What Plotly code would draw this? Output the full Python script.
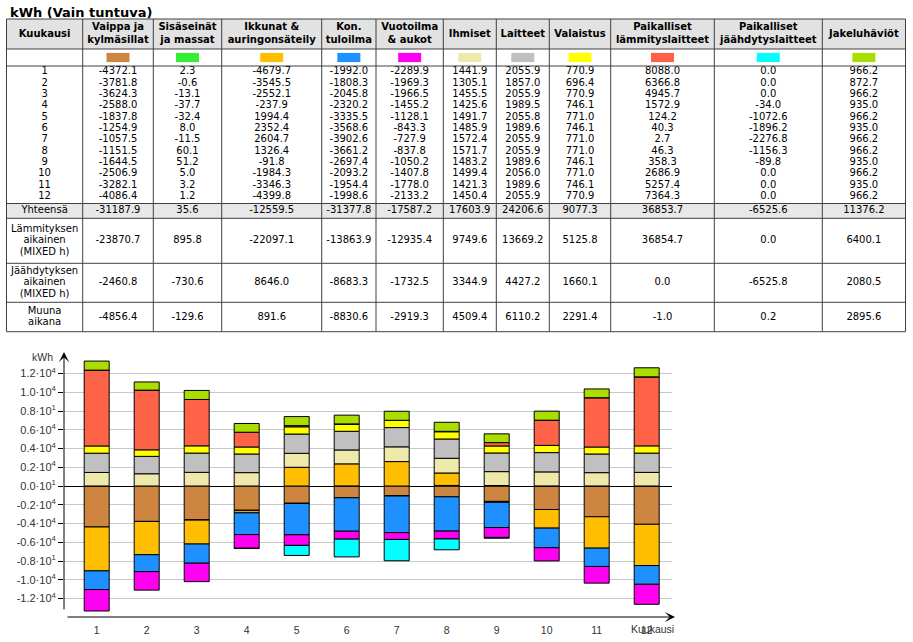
import plotly.graph_objects as go

# ---------------- data ----------------
MONTHS = ["1", "2", "3", "4", "5", "6", "7", "8", "9", "10", "11", "12"]
MONTH_POS = [1, 2, 3, 4, 5, 6, 7, 8, 9, 10, 11, 12]

HEADERS = ["Kuukausi", "Vaippa ja<br>kylmäsillat", "Sisäseinät<br>ja massat",
           "Ikkunat &amp;<br>auringonsäteily", "Kon.<br>tuloilma", "Vuotoilma<br>&amp; aukot",
           "Ihmiset", "Laitteet", "Valaistus", "Paikalliset<br>lämmityslaitteet",
           "Paikalliset<br>jäähdytyslaitteet", "Jakeluhäviöt"]
SERIES_NAMES = ["Vaippa ja kylmäsillat", "Sisäseinät ja massat", "Ikkunat & auringonsäteily",
                "Kon. tuloilma", "Vuotoilma & aukot", "Ihmiset", "Laitteet", "Valaistus",
                "Paikalliset lämmityslaitteet", "Paikalliset jäähdytyslaitteet", "Jakeluhäviöt"]

VAIPPA = [-4372.1, -3781.8, -3624.3, -2588.0, -1837.8, -1254.9, -1057.5, -1151.5, -1644.5, -2506.9, -3282.1, -4086.4]
SISASEINAT = [2.3, -0.6, -13.1, -37.7, -32.4, 8.0, -11.5, 60.1, 51.2, 5.0, 3.2, 1.2]
IKKUNAT = [-4679.7, -3545.5, -2552.1, -237.9, 1994.4, 2352.4, 2604.7, 1326.4, -91.8, -1984.3, -3346.3, -4399.8]
KON_TULOILMA = [-1992.0, -1808.3, -2045.8, -2320.2, -3335.5, -3568.6, -3902.6, -3661.2, -2697.4, -2093.2, -1954.4, -1998.6]
VUOTOILMA = [-2289.9, -1969.3, -1966.5, -1455.2, -1128.1, -843.3, -727.9, -837.8, -1050.2, -1407.8, -1778.0, -2133.2]
IHMISET = [1441.9, 1305.1, 1455.5, 1425.6, 1491.7, 1485.9, 1572.4, 1571.7, 1483.2, 1499.4, 1421.3, 1450.4]
LAITTEET = [2055.9, 1857.0, 2055.9, 1989.5, 2055.8, 1989.6, 2055.9, 2055.9, 1989.6, 2056.0, 1989.6, 2055.9]
VALAISTUS = [770.9, 696.4, 770.9, 746.1, 771.0, 746.1, 771.0, 771.0, 746.1, 771.0, 746.1, 770.9]
PAIK_LAMM = [8088.0, 6366.8, 4945.7, 1572.9, 124.2, 40.3, 2.7, 46.3, 358.3, 2686.9, 5257.4, 7364.3]
PAIK_JAAHD = [0.0, 0.0, 0.0, -34.0, -1072.6, -1896.2, -2276.8, -1156.3, -89.8, 0.0, 0.0, 0.0]
JAKELU = [966.2, 872.7, 966.2, 935.0, 966.2, 935.0, 966.2, 966.2, 935.0, 966.2, 935.0, 966.2]
SERIES = [VAIPPA, SISASEINAT, IKKUNAT, KON_TULOILMA, VUOTOILMA, IHMISET, LAITTEET,
          VALAISTUS, PAIK_LAMM, PAIK_JAAHD, JAKELU]

SUMMARY_LABELS = ["Yhteensä", "Lämmityksen<br>aikainen<br>(MIXED h)",
                  "Jäähdytyksen<br>aikainen<br>(MIXED h)", "Muuna<br>aikana"]
YHTEENSA = [-31187.9, 35.6, -12559.5, -31377.8, -17587.2, 17603.9, 24206.6, 9077.3, 36853.7, -6525.6, 11376.2]
LAMMITYS = [-23870.7, 895.8, -22097.1, -13863.9, -12935.4, 9749.6, 13669.2, 5125.8, 36854.7, 0.0, 6400.1]
JAAHDYTYS = [-2460.8, -730.6, 8646.0, -8683.3, -1732.5, 3344.9, 4427.2, 1660.1, 0.0, -6525.8, 2080.5]
MUUNA = [-4856.4, -129.6, 891.6, -8830.6, -2919.3, 4509.4, 6110.2, 2291.4, -1.0, 0.2, 2895.6]
SUMMARY = [YHTEENSA, LAMMITYS, JAAHDYTYS, MUUNA]

Y_TICK_VALUES = [12000, 10000, 8000, 6000, 4000, 2000, 0, -2000, -4000, -6000, -8000, -10000, -12000]
Y_TICK_TEXT = ["1.2·10<sup>4</sup>", "1.0·10<sup>4</sup>", "0.8·10<sup>1</sup>", "0.6·10<sup>4</sup>",
               "0.4·10<sup>4</sup>", "0.2·10<sup>4</sup>", "0.0·10<sup>1</sup>", "-0.2·10<sup>4</sup>",
               "-0.4·10<sup>4</sup>", "-0.6·10<sup>4</sup>", "-0.8·10<sup>1</sup>", "-1.0·10<sup>4</sup>",
               "-1.2·10<sup>4</sup>"]
TITLE = "kWh (Vain tuntuva)"
Y_UNIT = "kWh"
X_TITLE = "Kuukausi"

# ---------------- style / layout ----------------
COLORS = ["#CD853F", "#33EE33", "#FFBF00", "#1E90FF", "#FF00F0", "#EEE8AA",
          "#C0C0C0", "#FFFF00", "#FF6347", "#00FFFF", "#AADD00"]
W, H = 913, 642
FONT = "DejaVu Sans, Verdana, sans-serif"
AXFONT = "Liberation Sans, Arial, sans-serif"
COL_EDGES = [6.5, 82.7, 153.3, 221.7, 321.7, 376.0, 443.3, 496.3, 549.3, 610.7, 714.3, 822.3, 905.5]
ROW_EDGES = [19.0, 49.0, 66.0, 203.5, 218.3, 263.3, 302.3, 331.7]
LINE_H = 11.7
MONTH_Y0, MONTH_DY = 71.7, 11.36
TABLE_BOTTOM = 340  # pixel extent of the table subplot

fig = go.Figure()

# ---------------- stacked bars ----------------
for name, vals, col in zip(SERIES_NAMES, SERIES, COLORS):
    fig.add_trace(go.Bar(x=MONTH_POS, y=vals, name=name, width=0.5,
                         marker=dict(color=col, line=dict(color="black", width=1)),
                         showlegend=False))

# ---------------- table (drawn on a pixel-scaled hidden axis pair) ----------------
centers = [(COL_EDGES[i] + COL_EDGES[i + 1]) / 2 for i in range(len(COL_EDGES) - 1)]
shapes = []
for r, fill in [(0, "#E2E2E2"), (3, "#E8E8E8")]:
    shapes.append(dict(type="rect", xref="x2", yref="y2", x0=COL_EDGES[0], x1=COL_EDGES[-1],
                       y0=ROW_EDGES[r], y1=ROW_EDGES[r + 1], fillcolor=fill, line=dict(width=0),
                       layer="below"))
sw_y = (ROW_EDGES[1] + ROW_EDGES[2]) / 2
for i, col in enumerate(COLORS):
    cx = centers[i + 1]
    shapes.append(dict(type="rect", xref="x2", yref="y2", x0=cx - 11.5, x1=cx + 11.5,
                       y0=sw_y - 4.6, y1=sw_y + 4.6, fillcolor=col, line=dict(width=0)))
for y in ROW_EDGES:
    shapes.append(dict(type="line", xref="x2", yref="y2", x0=COL_EDGES[0], x1=COL_EDGES[-1],
                       y0=y, y1=y, line=dict(color="#404040", width=1)))
for x in COL_EDGES:
    shapes.append(dict(type="line", xref="x2", yref="y2", x0=x, x1=x,
                       y0=ROW_EDGES[0], y1=ROW_EDGES[-1], line=dict(color="#404040", width=1)))


def add_lines(xs, ys, ts, cx, cy, text, lh):
    parts = text.split("<br>")
    n = len(parts)
    for k, p in enumerate(parts):
        xs.append(cx)
        ys.append(cy + (k - (n - 1) / 2) * lh)
        ts.append(p)


hx, hy, ht = [], [], []
hc = (ROW_EDGES[0] + ROW_EDGES[1]) / 2
for i, h in enumerate(HEADERS):
    add_lines(hx, hy, ht, centers[i], hc, h, 12.4)
ht = ["<b>" + t + "</b>" for t in ht]
fig.add_trace(go.Scatter(x=hx, y=hy, text=ht, mode="text", textposition="middle center",
                         textfont=dict(family=FONT, size=10, color="black"), xaxis="x2", yaxis="y2",
                         hoverinfo="skip", showlegend=False, cliponaxis=False))

bx, by, bt = [], [], []
for m, month in enumerate(MONTHS):
    y = MONTH_Y0 + m * MONTH_DY
    bx.append(centers[0]); by.append(y); bt.append(month)
    for s, vals in enumerate(SERIES):
        bx.append(centers[s + 1]); by.append(y); bt.append(f"{vals[m]:.1f}")
for r, (lab, vals) in enumerate(zip(SUMMARY_LABELS, SUMMARY)):
    cy = (ROW_EDGES[3 + r] + ROW_EDGES[4 + r]) / 2
    add_lines(bx, by, bt, centers[0], cy, lab, LINE_H)
    for s, v in enumerate(vals):
        bx.append(centers[s + 1]); by.append(cy); bt.append(f"{v:.1f}")
fig.add_trace(go.Scatter(x=bx, y=by, text=bt, mode="text", textposition="middle center",
                         textfont=dict(family=FONT, size=10, color="black"), xaxis="x2", yaxis="y2",
                         hoverinfo="skip", showlegend=False, cliponaxis=False))

# ---------------- axes geometry ----------------
PX_L, PX_R = 64, 672
PX_T, PX_B = 352, 617
X0_PX, DX_PX = 96.7, 50.0
ZERO_PX, PX_PER_UNIT = 486.0, 0.009375
x_range = [1 - (X0_PX - PX_L) / DX_PX, 12 + (PX_R - (X0_PX + 11 * DX_PX)) / DX_PX]
y_range = [-(PX_B - ZERO_PX) / PX_PER_UNIT, (ZERO_PX - PX_T) / PX_PER_UNIT]

annotations = [
    dict(text="<b>" + TITLE + "</b>", x=8 / W, y=1 - 12 / H, xref="paper", yref="paper",
         xanchor="left", yanchor="middle", showarrow=False, font=dict(family=FONT, size=13, color="black")),
    dict(text="", x=PX_L / W, y=1 - PX_T / H, xref="paper", yref="paper", showarrow=True,
         ax=0, ay=611 - PX_T, arrowhead=3, arrowsize=1.7, arrowwidth=1, arrowcolor="black"),
    dict(text="", x=675 / W, y=1 - PX_B / H, xref="paper", yref="paper", showarrow=True,
         ax=-(675 - 66), ay=0, arrowhead=3, arrowsize=1.7, arrowwidth=1, arrowcolor="black"),
    dict(text=Y_UNIT, x=42 / W, y=1 - 357 / H, xref="paper", yref="paper", showarrow=False,
         xanchor="center", yanchor="middle", font=dict(family=AXFONT, size=10.5, color="#333333")),
    dict(text=X_TITLE, x=652 / W, y=1 - 629 / H, xref="paper", yref="paper", showarrow=False,
         xanchor="center", yanchor="middle", font=dict(family=AXFONT, size=10.5, color="#333333")),
]

fig.update_layout(
    width=W, height=H, margin=dict(l=0, r=0, t=0, b=0),
    paper_bgcolor="white", plot_bgcolor="rgba(0,0,0,0)",
    barmode="relative", showlegend=False,
    xaxis=dict(domain=[PX_L / W, PX_R / W], range=x_range, tickvals=MONTH_POS, ticktext=MONTHS,
               showgrid=False, zeroline=False, showline=False, ticks="", ticklabelstandoff=5,
               tickfont=dict(family=AXFONT, size=10.5, color="#333333"), fixedrange=True, anchor="y"),
    yaxis=dict(domain=[1 - PX_B / H, 1 - PX_T / H], range=y_range, tickvals=Y_TICK_VALUES,
               ticktext=Y_TICK_TEXT, showgrid=True, gridcolor="#C8C8C8", gridwidth=1,
               zeroline=True, zerolinecolor="black", zerolinewidth=1, showline=False,
               ticks="outside", ticklen=5, tickcolor="black",
               tickfont=dict(family=AXFONT, size=11, color="#333333"), fixedrange=True, anchor="x"),
    xaxis2=dict(domain=[0, 1], range=[0, W], visible=False, fixedrange=True, anchor="y2"),
    yaxis2=dict(domain=[1 - TABLE_BOTTOM / H, 1], range=[TABLE_BOTTOM, 0], visible=False,
                fixedrange=True, anchor="x2"),
    shapes=shapes, annotations=annotations,
)

fig.write_html("out.html", config={"displayModeBar": False},
               post_script="document.body.style.margin='0px';")
